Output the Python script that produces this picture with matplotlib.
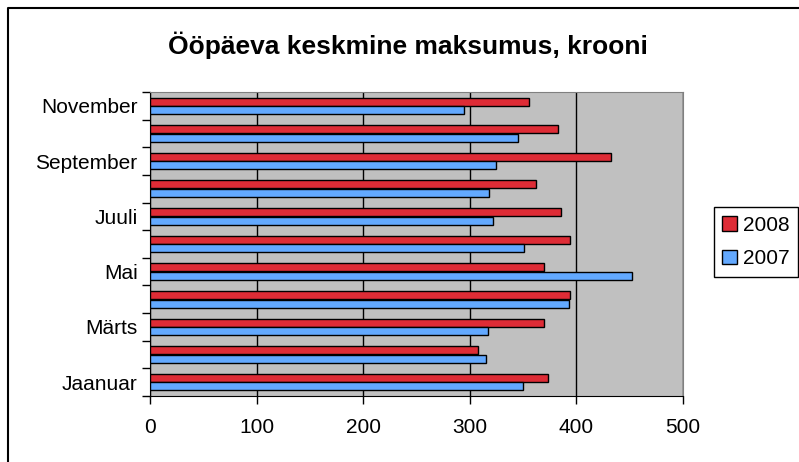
import numpy as np
import matplotlib
matplotlib.use("Agg")
import matplotlib.pyplot as plt
from matplotlib.patches import Patch
from matplotlib.lines import Line2D

plt.rcParams["font.family"] = ["Liberation Sans", "DejaVu Sans"]

# data
months = ["Jaanuar", "Veebruar", "Märts", "Aprill", "Mai", "Juuni",
          "Juuli", "August", "September", "Oktoober", "November"]
values_2008 = [373, 308, 370, 394, 370, 394, 386, 362, 432, 383, 356]
values_2007 = [350, 315, 317, 393, 452, 351, 322, 318, 325, 345, 295]
x_ticks = [0, 100, 200, 300, 400, 500]

red = "#DE2C36"
blue = "#63A9FF"

fig = plt.figure(figsize=(7.99, 4.62), dpi=100)
ax = fig.add_axes([150 / 799, 66 / 462, 533 / 799, 304 / 462])

y = np.arange(len(months))
h = 0.29
ax.set_facecolor("#C0C0C0")
ax.barh(y + 0.155, values_2008, height=h, color=red, edgecolor="black",
        linewidth=1, zorder=3)
ax.barh(y - 0.155, values_2007, height=h, color=blue, edgecolor="black",
        linewidth=1, zorder=3)

ax.set_xlim(0, 500)
ax.set_ylim(-0.5, len(months) - 0.5)
ax.set_xticks(x_ticks)
ax.set_xticklabels([str(t) for t in x_ticks], fontsize=15)
ax.grid(axis="x", color="black", linewidth=1, zorder=1)

# category labels on every other month, tick marks between categories
ax.set_yticks(y[::2])
ax.set_yticklabels(months[::2], fontsize=15)
ax.set_yticks(np.arange(-0.5, len(months)), minor=True)
ax.tick_params(axis="y", which="major", length=0, pad=9)
ax.tick_params(axis="y", which="minor", length=6, width=1, direction="out")
ax.tick_params(axis="x", length=6, width=1, direction="out", pad=10)

for side in ["top", "right"]:
    ax.spines[side].set_color("#808080")
for side in ["left", "bottom"]:
    ax.spines[side].set_color("black")

fig.text(0.51, 0.903, "Ööpäeva keskmine maksumus, krooni",
         ha="center", va="center", fontsize=19, fontweight="bold")

handles = [Patch(facecolor=red, edgecolor="black", label="2008"),
           Patch(facecolor=blue, edgecolor="black", label="2007")]
leg = fig.legend(handles=handles, loc="center right", bbox_to_anchor=(0.999, 0.476),
                 fontsize=15, fancybox=False, framealpha=1, edgecolor="black",
                 handlelength=0.7, handleheight=0.7, handletextpad=0.3,
                 borderpad=0.4, labelspacing=0.7, borderaxespad=0)
leg.get_frame().set_linewidth(1)

# outer chart border (only left and top edges are inside the picture)
fig.lines.append(Line2D([8 / 799, 8 / 799, 1.0], [0.0, 1 - 8 / 462, 1 - 8 / 462],
                        transform=fig.transFigure, color="black", linewidth=1.5))

fig.savefig("out.png", dpi=100)
